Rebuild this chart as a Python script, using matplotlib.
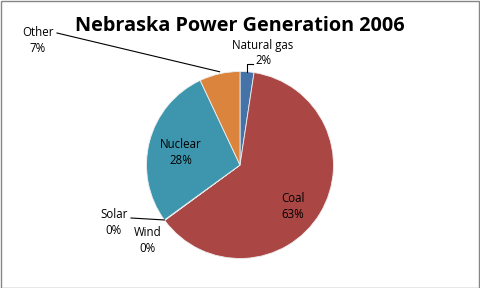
import numpy as np
import matplotlib.pyplot as plt
from matplotlib.patches import Rectangle

sources = ['Natural gas', 'Coal', 'Wind', 'Solar', 'Nuclear', 'Other']
shares = [2.4, 62.5, 0.1, 0.0, 28.0, 7.0]
share_labels = ['2%', '63%', '0%', '0%', '28%', '7%']
colors = ['#4572A7', '#AA4643', '#89A54E', '#80699B', '#3D96AE', '#DB843D']

W, H = 480, 288
plt.rcParams['font.family'] = ['Open Sans', 'DejaVu Sans']

fig = plt.figure(figsize=(W / 100, H / 100), dpi=100)
ax = fig.add_axes([0, 0, 1, 1])

cx, cy, r = 240, H - 165, 93.5
wedges, _ = ax.pie(
    shares, colors=colors, startangle=90, counterclock=False,
    center=(cx, cy), radius=r, frame=True,
    wedgeprops=dict(edgecolor='#eeeeee', linewidth=0.6),
)
ax.set_xlim(0, W)
ax.set_ylim(0, H)
ax.set_aspect('equal')
ax.axis('off')

ax.add_patch(Rectangle((0.5, 0.5), W - 1.5, H - 1.5, fill=False,
                       edgecolor='#868686', linewidth=1))

ax.text(240, H - 26, 'Nebraska Power Generation 2006', ha='center',
        va='center', fontsize=14.3, fontweight='bold')


def edge_point(w, frac=0.5):
    ang = np.deg2rad(w.theta1 + (w.theta2 - w.theta1) * frac)
    return cx + r * np.cos(ang), cy + r * np.sin(ang)


fs = 8.3
# label positions (pixel, y from top)
pos = {
    'Natural gas': (263, 45),
    'Coal': (293, 198),
    'Wind': (148, 232),
    'Solar': (114, 214),
    'Nuclear': (181, 145),
    'Other': (38, 32),
}
for w, name, lab in zip(wedges, sources, share_labels):
    x, y = pos[name]
    ax.text(x, H - y, name, ha='center', va='center', fontsize=fs)
    if name == 'Natural gas':
        ax.text(263, H - 61, lab, ha='center', va='center', fontsize=fs)
    else:
        ax.text(x, H - y - 16, lab, ha='center', va='center', fontsize=fs)

# leader lines
px, py = edge_point(wedges[0])
ax.plot([px, px, px + 6], [py, H - 64, H - 64], color='black', lw=0.8)
px, py = edge_point(wedges[5])
ax.plot([px, 57], [py + 2, H - 33], color='black', lw=0.8)
px, py = edge_point(wedges[3])
ax.plot([px, 131], [py, H - 218], color='black', lw=0.8)

fig.savefig('out.png', dpi=100)
